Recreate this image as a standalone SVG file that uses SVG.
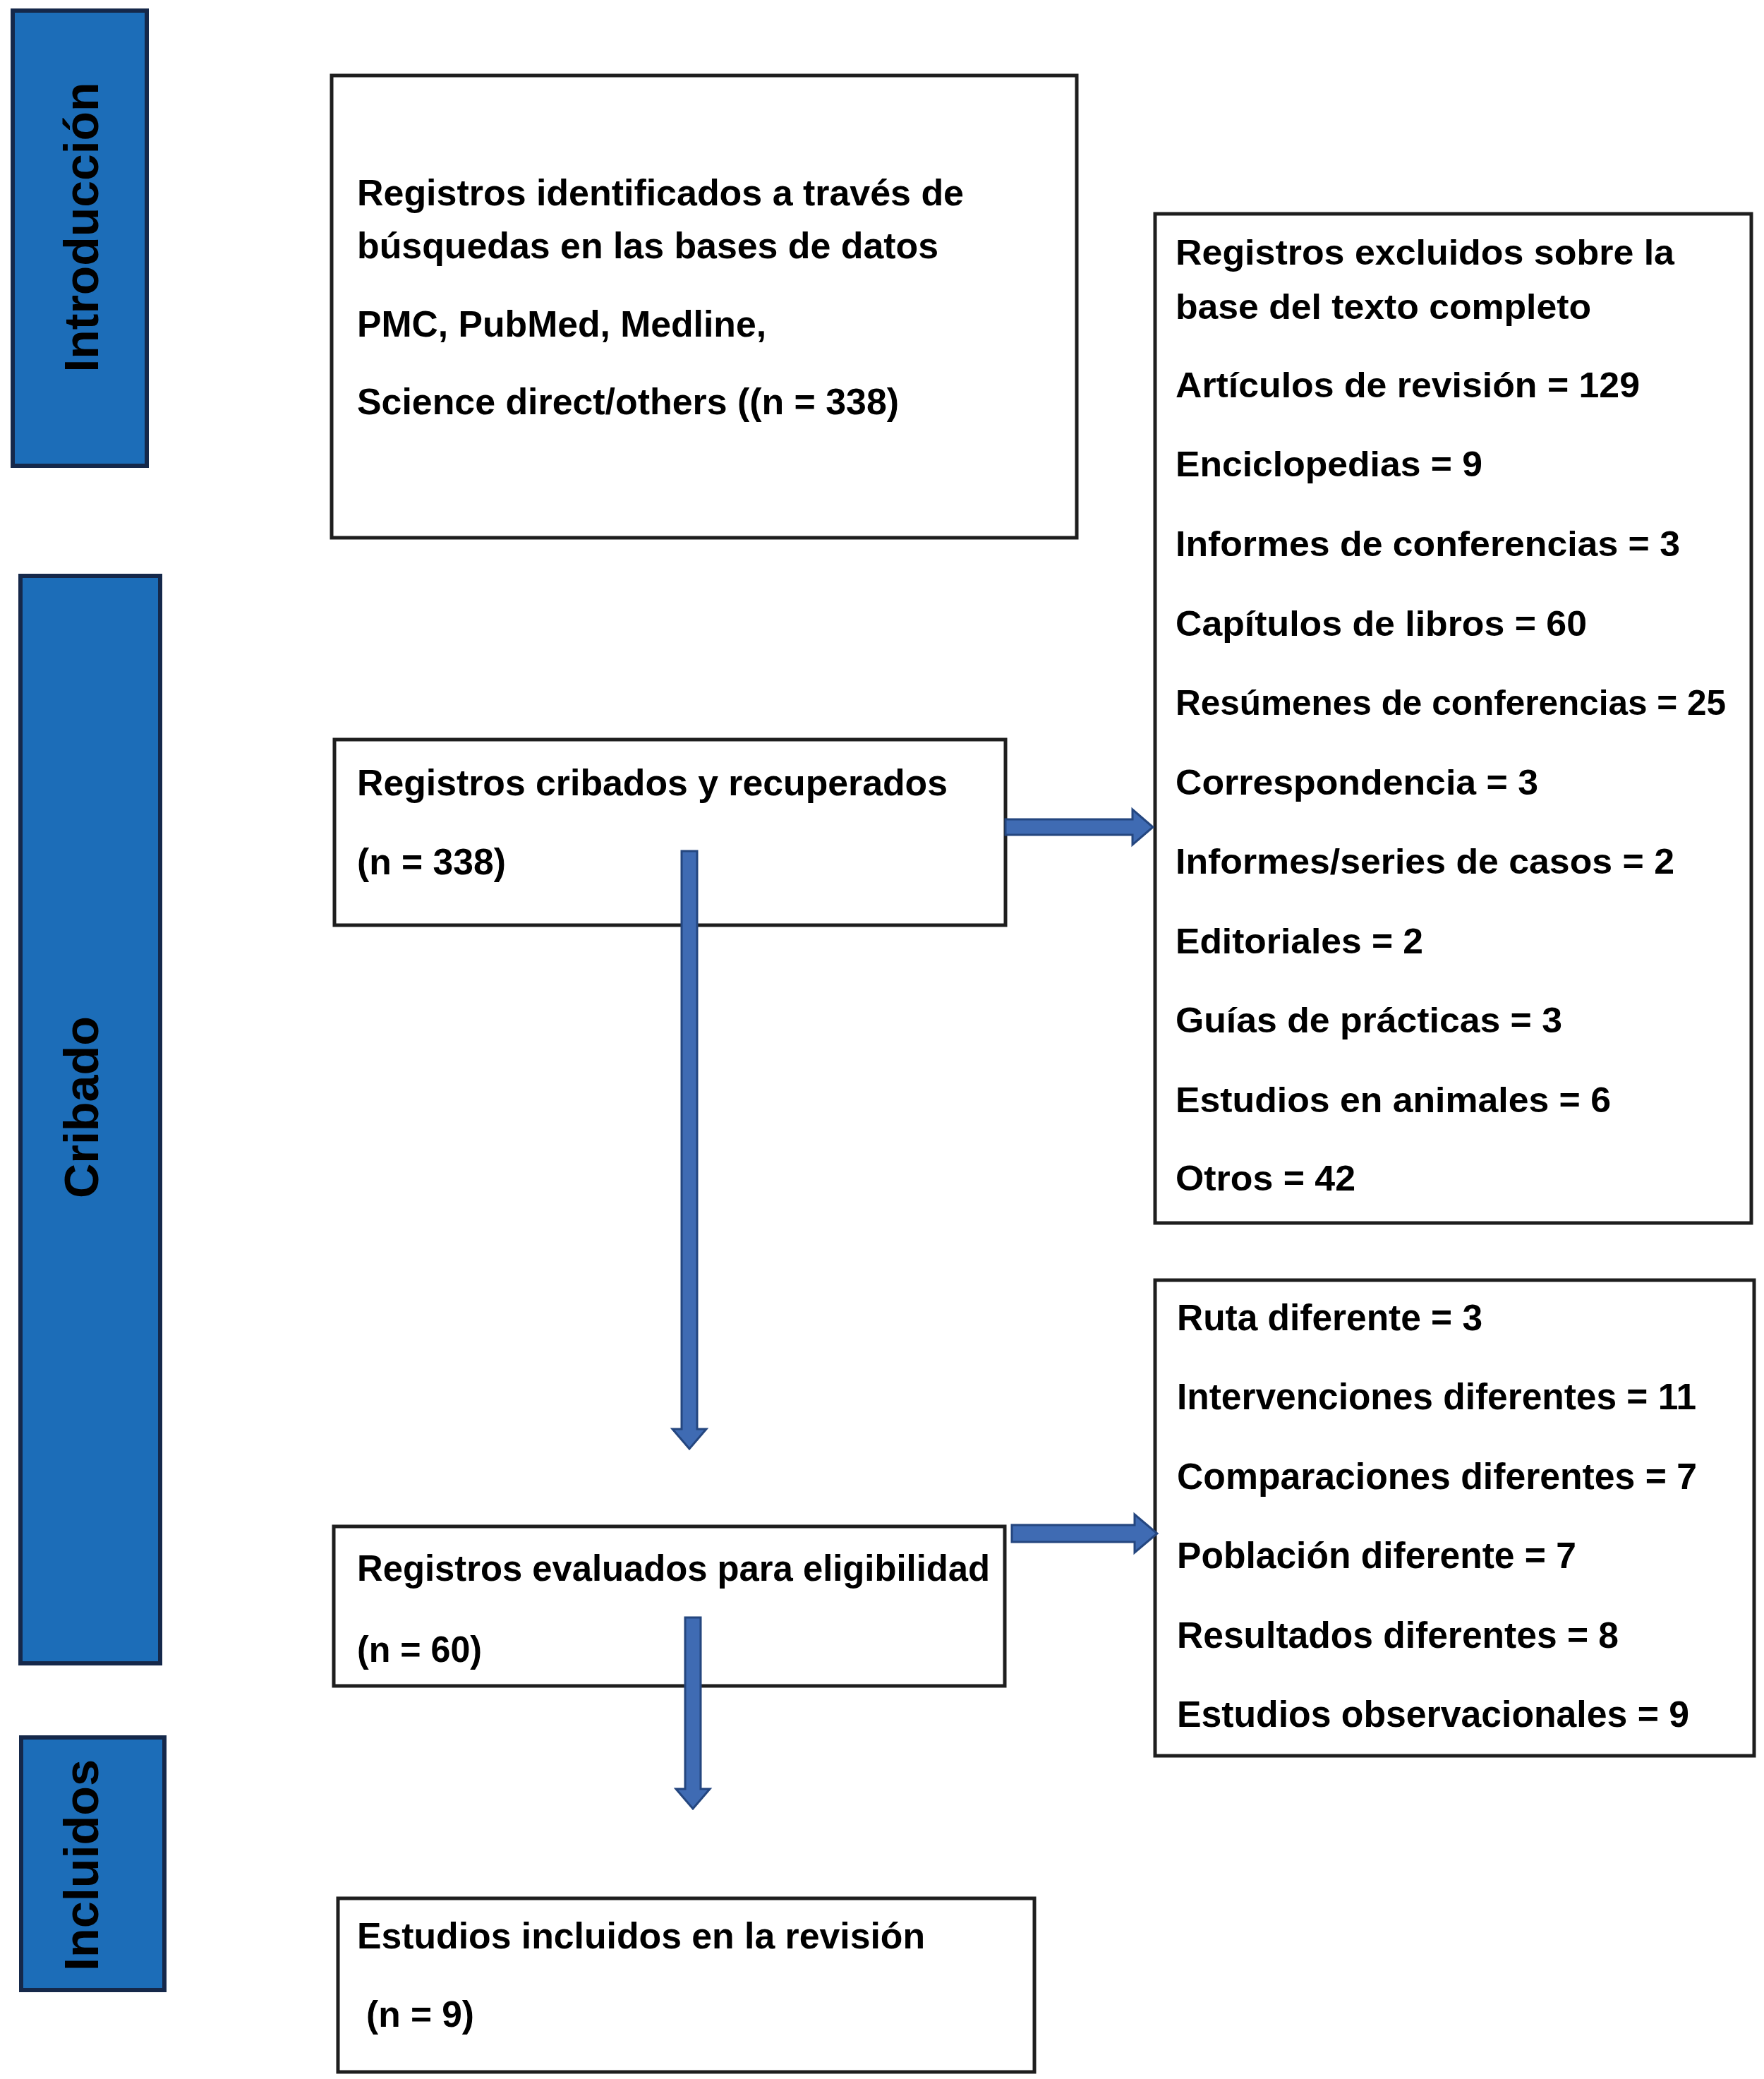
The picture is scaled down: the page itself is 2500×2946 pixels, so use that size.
<svg xmlns="http://www.w3.org/2000/svg" width="2500" height="2946" viewBox="0 0 2500 2946">
<style>
.bg{fill:#ffffff}
.box{fill:#ffffff;stroke:#1e1e1e;stroke-width:5}
.bar{fill:#1c6db8;stroke:#15284a;stroke-width:6}
.t{font-family:"Liberation Sans",Arial,sans-serif;font-weight:bold;fill:#000000}
.l{font-size:52px}
.r{font-size:50px}
.r2{font-size:51px}
.v{font-size:68px;text-anchor:middle}
.arr{fill:#3f6bb3;stroke:#24467f;stroke-width:3;stroke-linejoin:miter}
</style>
<rect class="bg" x="0" y="0" width="2500" height="2946"/>

<g id="phase-introduccion">
<rect class="bar" x="18" y="15" width="190" height="645"/>
<text class="t v" transform="translate(139,322) rotate(-90)" textLength="411" lengthAdjust="spacingAndGlyphs">Introducción</text>
</g>
<g id="phase-cribado">
<rect class="bar" x="29" y="816" width="198" height="1541"/>
<text class="t v" transform="translate(139,1569) rotate(-90)" textLength="258" lengthAdjust="spacingAndGlyphs">Cribado</text>
</g>
<g id="phase-incluidos">
<rect class="bar" x="30" y="2462" width="203" height="358"/>
<text class="t v" transform="translate(139,2643) rotate(-90)" textLength="300" lengthAdjust="spacingAndGlyphs">Incluidos</text>
</g>

<g id="node-identificados">
<rect class="box" x="470" y="107" width="1056" height="655"/>
<text class="t l" x="506" y="291" textLength="860" lengthAdjust="spacingAndGlyphs">Registros identificados a través de</text>
<text class="t l" x="506" y="366" textLength="824" lengthAdjust="spacingAndGlyphs">búsquedas en las bases de datos</text>
<text class="t l" x="506" y="477" textLength="580" lengthAdjust="spacingAndGlyphs">PMC, PubMed, Medline,</text>
<text class="t l" x="506" y="587" textLength="768" lengthAdjust="spacingAndGlyphs">Science direct/others ((n = 338)</text>
</g>

<g id="node-excluidos-texto">
<rect class="box" x="1637" y="303" width="845" height="1430"/>
<text class="t r" x="1666" y="375" textLength="707" lengthAdjust="spacingAndGlyphs">Registros excluidos sobre la</text>
<text class="t r" x="1666" y="452" textLength="589" lengthAdjust="spacingAndGlyphs">base del texto completo</text>
<text class="t r" x="1666" y="563" textLength="658" lengthAdjust="spacingAndGlyphs">Artículos de revisión = 129</text>
<text class="t r" x="1666" y="675" textLength="435" lengthAdjust="spacingAndGlyphs">Enciclopedias = 9</text>
<text class="t r" x="1666" y="788" textLength="715" lengthAdjust="spacingAndGlyphs">Informes de conferencias = 3</text>
<text class="t r" x="1666" y="901" textLength="583" lengthAdjust="spacingAndGlyphs">Capítulos de libros = 60</text>
<text class="t r" x="1666" y="1013" textLength="780" lengthAdjust="spacingAndGlyphs">Resúmenes de conferencias = 25</text>
<text class="t r" x="1666" y="1126" textLength="514" lengthAdjust="spacingAndGlyphs">Correspondencia = 3</text>
<text class="t r" x="1666" y="1238" textLength="707" lengthAdjust="spacingAndGlyphs">Informes/series de casos = 2</text>
<text class="t r" x="1666" y="1351" textLength="351" lengthAdjust="spacingAndGlyphs">Editoriales = 2</text>
<text class="t r" x="1666" y="1463" textLength="548" lengthAdjust="spacingAndGlyphs">Guías de prácticas = 3</text>
<text class="t r" x="1666" y="1576" textLength="617" lengthAdjust="spacingAndGlyphs">Estudios en animales = 6</text>
<text class="t r" x="1666" y="1687" textLength="255" lengthAdjust="spacingAndGlyphs">Otros = 42</text>
</g>

<g id="node-cribados">
<rect class="box" x="474" y="1048" width="951" height="263"/>
<text class="t l" x="506" y="1127" textLength="837" lengthAdjust="spacingAndGlyphs">Registros cribados y recuperados</text>
<text class="t l" x="506" y="1239" textLength="211" lengthAdjust="spacingAndGlyphs">(n = 338)</text>
</g>

<g id="node-excluidos-eligibilidad">
<rect class="box" x="1637" y="1814" width="849" height="674"/>
<text class="t r2" x="1668" y="1885" textLength="433" lengthAdjust="spacingAndGlyphs">Ruta diferente = 3</text>
<text class="t r2" x="1668" y="1997" textLength="736" lengthAdjust="spacingAndGlyphs">Intervenciones diferentes = 11</text>
<text class="t r2" x="1668" y="2110" textLength="737" lengthAdjust="spacingAndGlyphs">Comparaciones diferentes = 7</text>
<text class="t r2" x="1668" y="2222" textLength="566" lengthAdjust="spacingAndGlyphs">Población diferente = 7</text>
<text class="t r2" x="1668" y="2335" textLength="626" lengthAdjust="spacingAndGlyphs">Resultados diferentes = 8</text>
<text class="t r2" x="1668" y="2447" textLength="726" lengthAdjust="spacingAndGlyphs">Estudios observacionales = 9</text>
</g>

<g id="node-evaluados">
<rect class="box" x="473" y="2163" width="951" height="226"/>
<text class="t l" x="506" y="2240" textLength="897" lengthAdjust="spacingAndGlyphs">Registros evaluados para eligibilidad</text>
<text class="t l" x="506" y="2355" textLength="177" lengthAdjust="spacingAndGlyphs">(n = 60)</text>
</g>

<g id="node-incluidos">
<rect class="box" x="479" y="2690" width="987" height="246"/>
<text class="t l" x="506" y="2761" textLength="805" lengthAdjust="spacingAndGlyphs">Estudios incluidos en la revisión</text>
<text class="t l" x="519" y="2872" textLength="153" lengthAdjust="spacingAndGlyphs">(n = 9)</text>
</g>

<g id="connectors">
<polygon class="arr" points="1425,1161 1605,1161 1605,1147 1634,1172 1605,1197 1605,1183 1425,1183"/>
<polygon class="arr" points="1434,2161 1608,2161 1608,2146 1640,2173 1608,2200 1608,2185 1434,2185"/>
<polygon class="arr" points="966,1206 988,1206 988,2025 1001,2025 977,2053 953,2025 966,2025"/>
<polygon class="arr" points="971,2292 993,2292 993,2535 1006,2535 982,2563 958,2535 971,2535"/>
</g>
</svg>
